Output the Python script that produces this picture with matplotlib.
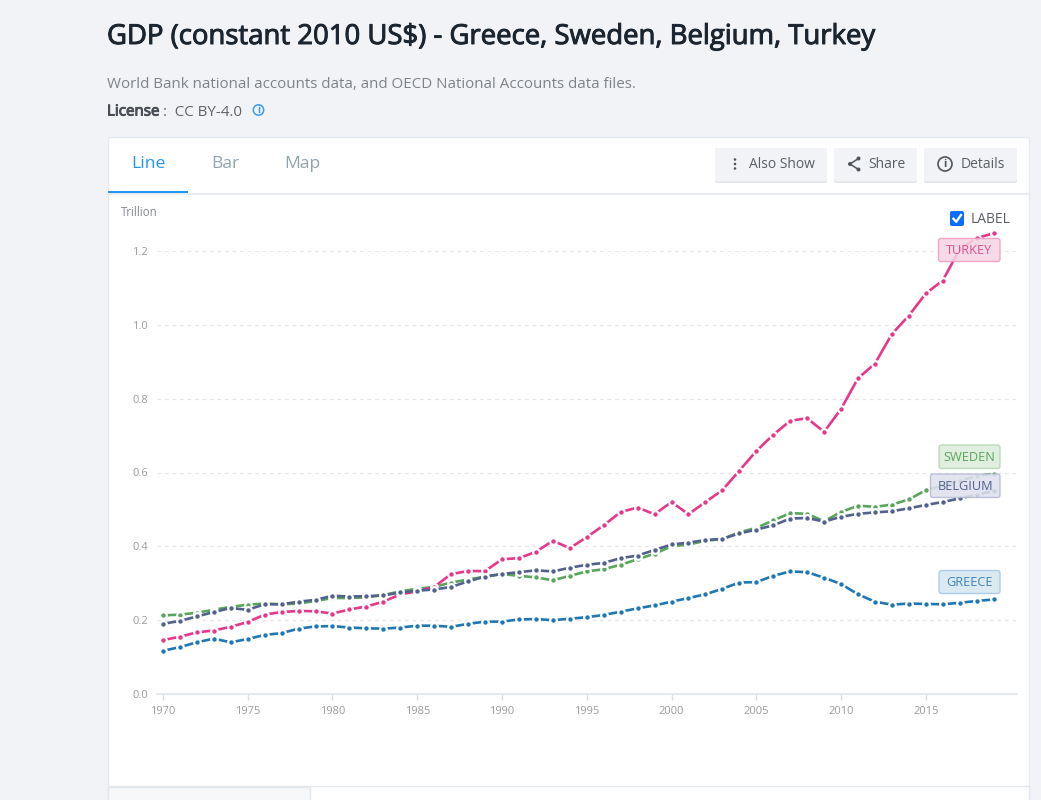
import matplotlib
matplotlib.use('Agg')
import matplotlib.pyplot as plt
import matplotlib.patheffects as pe
from matplotlib.patches import FancyBboxPatch, Rectangle, Circle

plt.rcParams['font.family'] = ['Open Sans', 'Noto Sans', 'DejaVu Sans']

years = list(range(1970, 2020))
turkey = [.146, .155, .167, .172, .182, .195, .215, .222, .225, .224,
          .218, .229, .237, .250, .270, .278, .290, .325, .333, .333,
          .365, .368, .385, .415, .395, .425, .457, .493, .505, .487,
          .520, .487, .520, .552, .605, .658, .702, .740, .747, .710,
          .772, .855, .895, .975, 1.025, 1.085, 1.120, 1.205, 1.235, 1.248]
sweden = [.213, .215, .220, .228, .236, .242, .245, .243, .245, .252,
          .260, .260, .262, .268, .278, .285, .290, .302, .310, .318,
          .325, .320, .316, .308, .320, .332, .338, .350, .365, .380,
          .400, .405, .415, .420, .438, .450, .470, .490, .488, .468,
          .493, .510, .507, .513, .527, .552, .565, .578, .590, .597]
belgium = [.190, .198, .210, .222, .233, .228, .243, .243, .250, .255,
           .266, .264, .265, .267, .275, .280, .283, .290, .305, .318,
           .325, .330, .335, .332, .342, .350, .355, .368, .375, .390,
           .405, .410, .417, .420, .435, .445, .457, .475, .477, .467,
           .480, .488, .492, .495, .503, .512, .520, .530, .540, .550]
greece = [.117, .127, .140, .150, .140, .149, .160, .165, .177, .183,
          .184, .180, .178, .177, .180, .185, .185, .182, .190, .196,
          .196, .202, .203, .200, .204, .208, .214, .223, .232, .240,
          .250, .260, .270, .285, .302, .303, .320, .332, .330, .315,
          .298, .270, .250, .242, .245, .244, .243, .247, .252, .256]

yticks = [0.0, 0.2, 0.4, 0.6, 0.8, 1.0, 1.2]
xticks = list(range(1970, 2020, 5))

GREEN = '#5aa55c'
NAVY = '#52618f'
PINK = '#e5388a'
BLUE = '#1f77b4'

W, H = 1041, 800
fig = plt.figure(figsize=(W / 100, H / 100), dpi=100, facecolor='#f1f3f7')


# page furniture is laid out in pixels, y going down
def pixel_axes(zorder):
    a = fig.add_axes([0, 0, 1, 1], zorder=zorder)
    a.set_xlim(0, W)
    a.set_ylim(H, 0)
    a.axis('off')
    a.patch.set_alpha(0)
    return a


def rounded(a, x0, y0, x1, y1, face, edge='none', r=2, lw=1.0, alpha=None, z=2):
    p = FancyBboxPatch((x0 + r, y0 + r), x1 - x0 - 2 * r, y1 - y0 - 2 * r,
                       boxstyle='round,pad=%g,rounding_size=%g' % (r, r),
                       facecolor=face, edgecolor=edge, linewidth=lw, alpha=alpha, zorder=z)
    a.add_patch(p)


bg = pixel_axes(0)
fg = pixel_axes(3)

# header
bg.text(107, 37, 'GDP (constant 2010 US$) - Greece, Sweden, Belgium, Turkey', fontsize=19.8,
        color='#1b2530', va='center', ha='left',
        path_effects=[pe.withStroke(linewidth=0.7, foreground='#1b2530')])
bg.text(107, 84, 'World Bank national accounts data, and OECD National Accounts data files.',
        fontsize=10.9, color='#7f8388', va='center')
bg.text(107, 112, 'License', fontsize=10.9, color='#4a4f55', va='center',
        path_effects=[pe.withStroke(linewidth=0.7, foreground='#4a4f55')])
bg.text(163, 112, ':  CC BY-4.0', fontsize=10.9, color='#5f6368', va='center')
bg.add_patch(Circle((258.5, 110), 5.2, facecolor='none', edgecolor='#3d9be9', linewidth=1.1))
bg.text(258.5, 110.5, 'i', fontsize=7, color='#3d9be9', ha='center', va='center', fontweight='bold')

# card
bg.add_patch(Rectangle((108, 137), 921, 670, facecolor='white', edgecolor='#e6e9ee', linewidth=1))
bg.plot([108, 1029], [193.5, 193.5], color='#e9edf1', lw=1.5)
bg.add_patch(Rectangle((108, 190.5), 80, 2, facecolor='#2196f3', zorder=3))
bg.text(148.5, 164.5, 'Line', fontsize=12.6, color='#2196f3', ha='center', va='center')
bg.text(225, 164.5, 'Bar', fontsize=12.6, color='#90a4ae', ha='center', va='center')
bg.text(302, 164.5, 'Map', fontsize=12.6, color='#90a4ae', ha='center', va='center')
bg.text(121, 212, 'Trillion', fontsize=8.3, color='#85898e', va='center')

# bottom row of the card
bg.add_patch(Rectangle((108, 786), 921, 20, facecolor='white', edgecolor='#e3e8ec', linewidth=1))
bg.add_patch(Rectangle((108, 787), 202, 20, facecolor='#f7f8fa', edgecolor='#e3e8ec', linewidth=1))

# buttons
for x0, x1 in [(715, 827), (834, 917), (924, 1017)]:
    rounded(bg, x0, 149, x1, 183, '#dfe3e8', r=2)
    rounded(bg, x0, 148, x1, 181.5, '#f1f3f6', r=2, z=3)
bg.text(749, 164.5, 'Also Show', fontsize=10, color='#5a5f66', va='center', zorder=4)
bg.text(868, 164.5, 'Share', fontsize=10, color='#5a5f66', va='center', zorder=4)
bg.text(961, 164.5, 'Details', fontsize=10, color='#5a5f66', va='center', zorder=4)
for y in [159.5, 164, 168.5]:
    bg.add_patch(Circle((735, y), 1.3, facecolor='#50555b', zorder=4))
bg.plot([858.5, 850, 858.5], [158.5, 164, 169.5], color='#50555b', lw=1.1, zorder=4)
for x, y in [(858.5, 158.5), (850, 164), (858.5, 169.5)]:
    bg.add_patch(Circle((x, y), 2, facecolor='#50555b', zorder=4))
bg.add_patch(Circle((945, 164), 7, facecolor='none', edgecolor='#50555b', linewidth=1.2, zorder=4))
bg.text(945, 164.5, 'i', fontsize=8, color='#50555b', ha='center', va='center', fontweight='bold', zorder=4)

# chart
ax = fig.add_axes([157 / W, (H - 694) / H, 860 / W, 443 / H], zorder=2)
ax.patch.set_alpha(0)
ax.set_xlim(1969.65, 2020.38)
ax.set_ylim(0, 1.2)
ax.set_yticks(yticks)
ax.set_yticklabels(['%.1f' % v for v in yticks])
ax.set_xticks(xticks)
ax.set_xticklabels([str(v) for v in xticks])
ax.tick_params(axis='y', length=0, pad=6.5, labelsize=8, labelcolor='#9b9b9b')
ax.tick_params(axis='x', length=4, width=1, color='#dcdfe3', pad=5, labelsize=8, labelcolor='#9b9b9b')
for s in ['top', 'right', 'left']:
    ax.spines[s].set_visible(False)
ax.spines['bottom'].set_color('#e0e6ec')
ax.spines['bottom'].set_linewidth(1.2)
ax.grid(axis='y', color='#e6e6e6', linestyle=(0, (3, 3)), linewidth=0.9)
ax.set_axisbelow(True)

for values, colour, z in [(sweden, GREEN, 3), (turkey, PINK, 4), (greece, BLUE, 4), (belgium, NAVY, 5)]:
    ax.plot(years, values, color=colour, lw=1.9, clip_on=False, zorder=z,
            marker='o', ms=4.8, mfc=colour, mec='white', mew=1.6)

# checkbox and series labels sit above the lines
rounded(fg, 950, 211, 964, 226, '#0d6efd', r=2)
fg.plot([953.5, 956.2, 961], [218.8, 221.8, 215], color='white', lw=1.7, zorder=4)
fg.text(970.5, 219.5, 'LABEL', fontsize=10, color='#5a5f66', va='center')

labels = [('TURKEY', 938.5, 238.5, 1000, 261.5, '#f6d5e4', '#f29cc3', '#d9538f'),
          ('SWEDEN', 939, 445, 1000, 468.5, '#dcecdb', '#b3d8b2', '#5aa55c'),
          ('BELGIUM', 930.5, 474, 1000, 497.5, '#dfe1ee', '#b5b9d6', '#52618f'),
          ('GREECE', 939, 570.5, 1000, 593.5, '#d7e6f2', '#a2c8e4', '#3f83b8')]
for name, x0, y0, x1, y1, face, edge, text_colour in labels:
    rounded(fg, x0, y0, x1, y1, face, edge=edge, r=2.5, lw=1, alpha=0.88)
    fg.text((x0 + x1) / 2, (y0 + y1) / 2 + 0.5, name, fontsize=9.2, color=text_colour,
            ha='center', va='center', zorder=5)

plt.savefig('out.png', dpi=100, facecolor=fig.get_facecolor())
